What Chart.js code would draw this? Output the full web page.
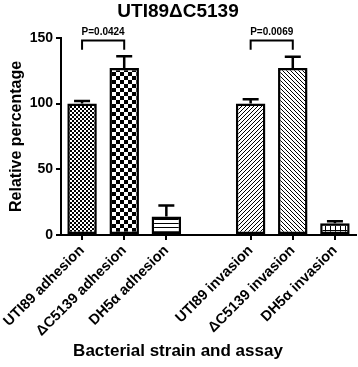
<!DOCTYPE html>
<html lang="en">
<head>
  <meta charset="UTF-8">
  <title>UTI89ΔC5139</title>
  <script src="https://cdn.jsdelivr.net/npm/chart.js"></script>
  <style>
    body { margin: 0; background: #fff; }
    #chart { display: block; }
  </style>
</head>
<body>
  <canvas id="chart" width="358" height="367"></canvas>

  <script>
    // data
    const categories = ['UTI89 adhesion', 'ΔC5139 adhesion', 'DH5α adhesion', '',
                        'UTI89 invasion', 'ΔC5139 invasion', 'DH5α invasion'];
    const means = [100, 127, 14, null, 100, 127, 9];
    const sems = [2, 9, 8.5, null, 3.3, 8.5, 1.5];
    const yTicks = [0, 50, 100, 150];
    const comparisons = [
      { from: 0, to: 1, label: 'P=0.0424' },
      { from: 4, to: 5, label: 'P=0.0069' }
    ];
    const patternKinds = ['fineCheck', 'coarseCheck', 'hlines', null, 'diagUp', 'diagDown', 'grid'];

    Chart.defaults.font.family = '"Liberation Sans", Arial, sans-serif';
    Chart.defaults.font.weight = 'bold';
    Chart.defaults.color = '#000';

    function makePattern(kind) {
      if (!kind) return '#fff';
      const sizes = { fineCheck: 4, coarseCheck: 8, hlines: 4, diagUp: 4, diagDown: 4, grid: 5 };
      const s = sizes[kind];
      const c = document.createElement('canvas');
      c.width = s; c.height = s;
      const g = c.getContext('2d');
      g.fillStyle = '#fff';
      g.fillRect(0, 0, s, s);
      g.fillStyle = '#000';
      g.strokeStyle = '#000';
      g.lineWidth = 1;
      if (kind === 'fineCheck') {
        g.fillRect(0, 0, 2, 2); g.fillRect(2, 2, 2, 2);
      } else if (kind === 'coarseCheck') {
        g.fillRect(0, 0, 4, 4); g.fillRect(4, 4, 4, 4);
      } else if (kind === 'hlines') {
        g.fillRect(0, 3, s, 1);
      } else if (kind === 'grid') {
        g.fillRect(0, 0, s, 1); g.fillRect(0, 0, 1, s);
      } else if (kind === 'diagUp') {
        g.beginPath();
        g.moveTo(0, s); g.lineTo(s, 0);
        g.moveTo(-1, 1); g.lineTo(1, -1);
        g.moveTo(s - 1, s + 1); g.lineTo(s + 1, s - 1);
        g.stroke();
      } else if (kind === 'diagDown') {
        g.beginPath();
        g.moveTo(0, 0); g.lineTo(s, s);
        g.moveTo(s - 1, -1); g.lineTo(s + 1, 1);
        g.moveTo(-1, s - 1); g.lineTo(1, s + 1);
        g.stroke();
      }
      return g.createPattern(c, 'repeat');
    }

    // error bars (upper only) drawn on top of the bars
    const errorBars = {
      id: 'errorBars',
      afterDatasetsDraw(chart) {
        const meta = chart.getDatasetMeta(0);
        const y = chart.scales.y;
        const ctx = chart.ctx;
        ctx.save();
        ctx.strokeStyle = '#000';
        ctx.lineWidth = 2.5;
        meta.data.forEach((bar, i) => {
          if (means[i] == null) return;
          const top = y.getPixelForValue(means[i] + sems[i]);
          ctx.beginPath();
          ctx.moveTo(bar.x, bar.y);
          ctx.lineTo(bar.x, top);
          ctx.moveTo(bar.x - 8, top);
          ctx.lineTo(bar.x + 8, top);
          ctx.stroke();
        });
        ctx.restore();
      }
    };

    // significance brackets with p-values
    const brackets = {
      id: 'brackets',
      afterDraw(chart, args, opts) {
        const x = chart.scales.x;
        const y = chart.scales.y;
        const ctx = chart.ctx;
        const top = y.getPixelForValue(opts.level);
        const foot = y.getPixelForValue(opts.foot);
        ctx.save();
        ctx.strokeStyle = '#000';
        ctx.lineWidth = 2;
        ctx.fillStyle = '#000';
        ctx.font = 'bold 10px "Liberation Sans", Arial, sans-serif';
        ctx.textAlign = 'center';
        ctx.textBaseline = 'bottom';
        comparisons.forEach(c => {
          const x1 = x.getPixelForValue(c.from);
          const x2 = x.getPixelForValue(c.to);
          ctx.beginPath();
          ctx.moveTo(x1, foot);
          ctx.lineTo(x1, top);
          ctx.lineTo(x2, top);
          ctx.lineTo(x2, foot);
          ctx.stroke();
          ctx.fillText(c.label, (x1 + x2) / 2, top - 3);
        });
        ctx.restore();
      }
    };

    const chartCtx = document.getElementById('chart').getContext('2d');

    const chart = new Chart(chartCtx, {
      type: 'bar',
      data: {
        labels: categories,
        datasets: [{
          data: means,
          backgroundColor: patternKinds.map(makePattern),
          borderColor: '#000',
          borderWidth: 2.5,
          borderSkipped: false,
          barPercentage: 0.7,
          categoryPercentage: 1
        }]
      },
      plugins: [errorBars, brackets],
      options: {
        responsive: false,
        animation: false,
        layout: { padding: { left: 0, right: 2, top: 0, bottom: 0 } },
        plugins: {
          legend: { display: false },
          tooltip: { enabled: false },
          title: {
            display: true,
            text: 'UTI89ΔC5139',
            font: { size: 19, weight: 'bold' },
            color: '#000',
            padding: { top: 0, bottom: 15 }
          },
          subtitle: {
            display: true,
            position: 'bottom',
            text: 'Bacterial strain and assay',
            font: { size: 17, weight: 'bold' },
            color: '#000',
            padding: { top: 0, bottom: 5 }
          },
          brackets: { level: 148, foot: 141 }
        },
        scales: {
          x: {
            offset: true,
            afterFit(scale) { scale.height = 106.6; },
            border: { display: true, color: '#000', width: 2 },
            grid: {
              display: true,
              offset: false,
              drawOnChartArea: false,
              drawTicks: true,
              tickLength: 5,
              lineWidth: 2,
              color: ctx => (categories[ctx.index] ? '#000' : 'rgba(0,0,0,0)')
            },
            ticks: {
              minRotation: 45,
              maxRotation: 45,
              autoSkip: false,
              padding: 2,
              font: { size: 14.5, weight: 'bold' },
              color: '#000'
            }
          },
          y: {
            min: 0,
            max: 150,
            afterFit(scale) { scale.width = 60; },
            afterBuildTicks(scale) { scale.ticks = yTicks.map(v => ({ value: v })); },
            border: { display: true, color: '#000', width: 2 },
            grid: {
              display: true,
              drawOnChartArea: false,
              drawTicks: true,
              tickLength: 5,
              lineWidth: 2,
              color: '#000'
            },
            ticks: {
              padding: 3,
              font: { size: 14, weight: 'bold' },
              color: '#000'
            },
            title: {
              display: true,
              text: 'Relative percentage',
              font: { size: 16, weight: 'bold' },
              color: '#000',
              padding: { top: 6, bottom: 0 }
            }
          }
        }
      }
    });
  </script>
</body>
</html>
